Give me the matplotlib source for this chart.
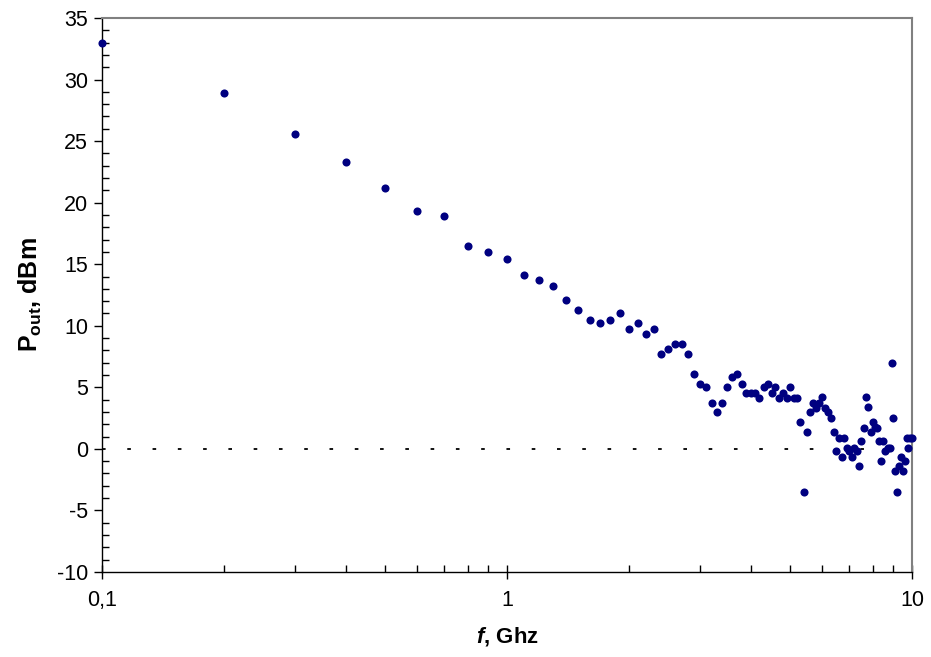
import matplotlib
matplotlib.use("Agg")
import matplotlib.pyplot as plt
from matplotlib.ticker import FixedLocator, MultipleLocator, FuncFormatter, LogLocator, NullFormatter

# frequency, GHz (0.1 .. 10 in 0.1 steps)
freq = [round(0.1 * i, 1) for i in range(1, 101)]

pout = [
    33.0, 28.9, 25.6, 23.3, 21.2, 19.3, 18.9, 16.5, 16.0, 15.4,
    14.1, 13.7, 13.2, 12.1, 11.3, 10.5, 10.2, 10.5, 11.0, 9.7,
    10.2, 9.3, 9.7, 7.7, 8.1, 8.5, 8.5, 7.7, 6.1, 5.3,
    5.0, 3.7, 3.0, 3.7, 5.0, 5.8, 6.1, 5.3, 4.5, 4.5,
    4.5, 4.1, 5.0, 5.3, 4.5, 5.0, 4.1, 4.5, 4.1, 5.0,
    4.1, 4.1, 2.2, -3.5, 1.4, 3.0, 3.7, 3.3, 3.7, 4.2,
    3.3, 3.0, 2.5, 1.4, -0.2, 0.9, -0.7, 0.9, 0.1, -0.2,
    -0.7, 0.1, -0.2, -1.4, 0.6, 1.7, 4.2, 3.4, 1.4, 2.2,
    1.8, 1.7, 0.6, -1.0, 0.6, -0.2, 0.1, 0.1, 7.0, 2.5,
    -1.8, -3.5, -1.4, -0.7, -1.8, -1.0, 0.9, 0.1, 0.9, 0.9,
]

plt.rcParams['font.family'] = ['Liberation Sans', 'DejaVu Sans']
plt.rcParams['mathtext.fontset'] = 'custom'
plt.rcParams['mathtext.rm'] = 'Liberation Sans'
plt.rcParams['mathtext.bf'] = 'Liberation Sans:bold'
plt.rcParams['mathtext.it'] = 'Liberation Sans:italic'
plt.rcParams['mathtext.bfit'] = 'Liberation Sans:italic:bold'

fig = plt.figure(figsize=(9.31, 6.57), dpi=100)
ax = fig.add_axes([0.1096, 0.1294, 0.87, 0.8432])

ax.axhline(0, color="black", lw=1.3, ls=(0, (2, 12)), zorder=1)
ax.scatter(freq, pout, s=34, color="#000080", zorder=3, clip_on=False, linewidths=0)

ax.set_xscale("log")
ax.set_xlim(0.1, 10)
ax.set_ylim(-10, 35)

ax.xaxis.set_major_locator(FixedLocator([0.1, 1, 10]))
ax.xaxis.set_major_formatter(FuncFormatter(lambda v, p: {0.1: "0,1", 1: "1", 10: "10"}.get(round(v, 1), "")))
ax.xaxis.set_minor_locator(LogLocator(base=10, subs=range(2, 10)))
ax.xaxis.set_minor_formatter(NullFormatter())

ax.yaxis.set_major_locator(MultipleLocator(5))
ax.yaxis.set_minor_locator(MultipleLocator(1))
ax.yaxis.set_major_formatter(FuncFormatter(lambda v, p: "%d" % v))

ax.tick_params(axis="y", which="major", direction="out", length=6, width=1, labelsize=15.5, pad=4)
ax.tick_params(axis="y", which="minor", direction="in", length=5, width=1)
ax.tick_params(axis="x", which="major", direction="inout", length=10, width=1, labelsize=15.5, pad=8)
ax.tick_params(axis="x", which="minor", direction="in", length=5, width=1)

for side in ("top", "right"):
    ax.spines[side].set_color("#808080")
    ax.spines[side].set_linewidth(1.5)
for side in ("left", "bottom"):
    ax.spines[side].set_color("black")
    ax.spines[side].set_linewidth(1)

ax.set_xlabel(r"$\mathbfit{f}$, Ghz", fontsize=16, fontweight="bold", labelpad=10)
ax.set_ylabel(r"$\mathbf{P_{out}}$, dBm", fontsize=18, fontweight="bold", labelpad=9)

fig.savefig("out.png", dpi=100)
